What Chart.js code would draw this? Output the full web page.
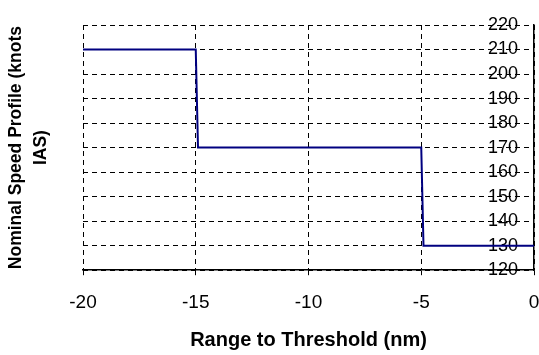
<!DOCTYPE html>
<html>
<head>
<meta charset="utf-8">
<script src="https://cdn.jsdelivr.net/npm/chart.js@4.4.1/dist/chart.umd.min.js"></script>
<style>
  html, body { margin: 0; padding: 0; background: #fff; }
  #wrap { width: 539px; height: 355px; position: relative; }
</style>
</head>
<body>
<div id="wrap"><canvas id="speedChart"></canvas></div>
<script>
// step profile: range (nm) vs nominal speed (knots IAS)
const rangeNm = [-20, -15, -14.9, -5, -4.9, 0];
const speedKts = [210, 210, 170, 170, 130, 130];
const xTicks = [-20, -15, -10, -5, 0];
const yTicks = [120, 130, 140, 150, 160, 170, 180, 190, 200, 210, 220];

const FONT = "'Liberation Sans', Arial, sans-serif";
const dash = [5, 4];

const ctx = document.getElementById("speedChart").getContext("2d");

new Chart(ctx, {
  type: "scatter",
  data: {
    datasets: [{
      label: "Speed",
      data: rangeNm.map((x, i) => ({ x, y: speedKts[i] })),
      showLine: true,
      borderColor: "#000080",
      borderWidth: 2,
      pointRadius: 0,
      tension: 0,
      yAxisID: "y"
    }]
  },
  options: {
    responsive: true,
    maintainAspectRatio: false,
    animation: false,
    layout: { padding: { top: 25, right: 5, left: 0, bottom: 5 } },
    plugins: { legend: { display: false }, tooltip: { enabled: false } },
    scales: {
      x: {
        type: "linear",
        min: -20,
        max: 0,
        afterBuildTicks: axis => { axis.ticks = xTicks.map(v => ({ value: v })); },
        // tick padding otherwise gets added to the side padding too
        afterFit: axis => { axis.paddingLeft = 0; axis.paddingRight = 0; },
        grid: {
          color: "#000",
          drawTicks: true,
          tickLength: 5,
          tickColor: "#000",
          tickBorderDash: []
        },
        border: { display: true, color: "#000", width: 1.5, dash: dash },
        ticks: { color: "#000", font: { family: FONT, size: 19 }, padding: 16, maxRotation: 0, autoSkip: false },
        title: {
          display: true,
          text: "Range to Threshold (nm)",
          color: "#000",
          font: { family: FONT, size: 20, weight: "bold", lineHeight: 1.0 },
          padding: { top: 0, bottom: 0 }
        }
      },
      y: {
        type: "linear",
        position: "right",
        min: 120,
        max: 220,
        afterBuildTicks: axis => { axis.ticks = yTicks.map(v => ({ value: v })); },
        afterFit: axis => { axis.width = 0; },
        grid: { color: "#000", drawTicks: false },
        border: { display: true, color: "#000", width: 1.5, dash: dash },
        ticks: { color: "#000", mirror: true, padding: -16, autoSkip: false, font: { family: FONT, size: 18 } }
      },
      yTitle: {
        type: "linear",
        position: "left",
        min: 120,
        max: 220,
        grid: { display: false, drawTicks: false },
        border: { display: false },
        ticks: { display: false },
        title: {
          display: true,
          text: ["Nominal Speed Profile (knots", "IAS)"],
          color: "#000",
          font: { family: FONT, size: 17.5, weight: "bold", lineHeight: 1.4 },
          padding: { top: 4, bottom: 30 }
        }
      }
    }
  }
});
</script>
</body>
</html>
